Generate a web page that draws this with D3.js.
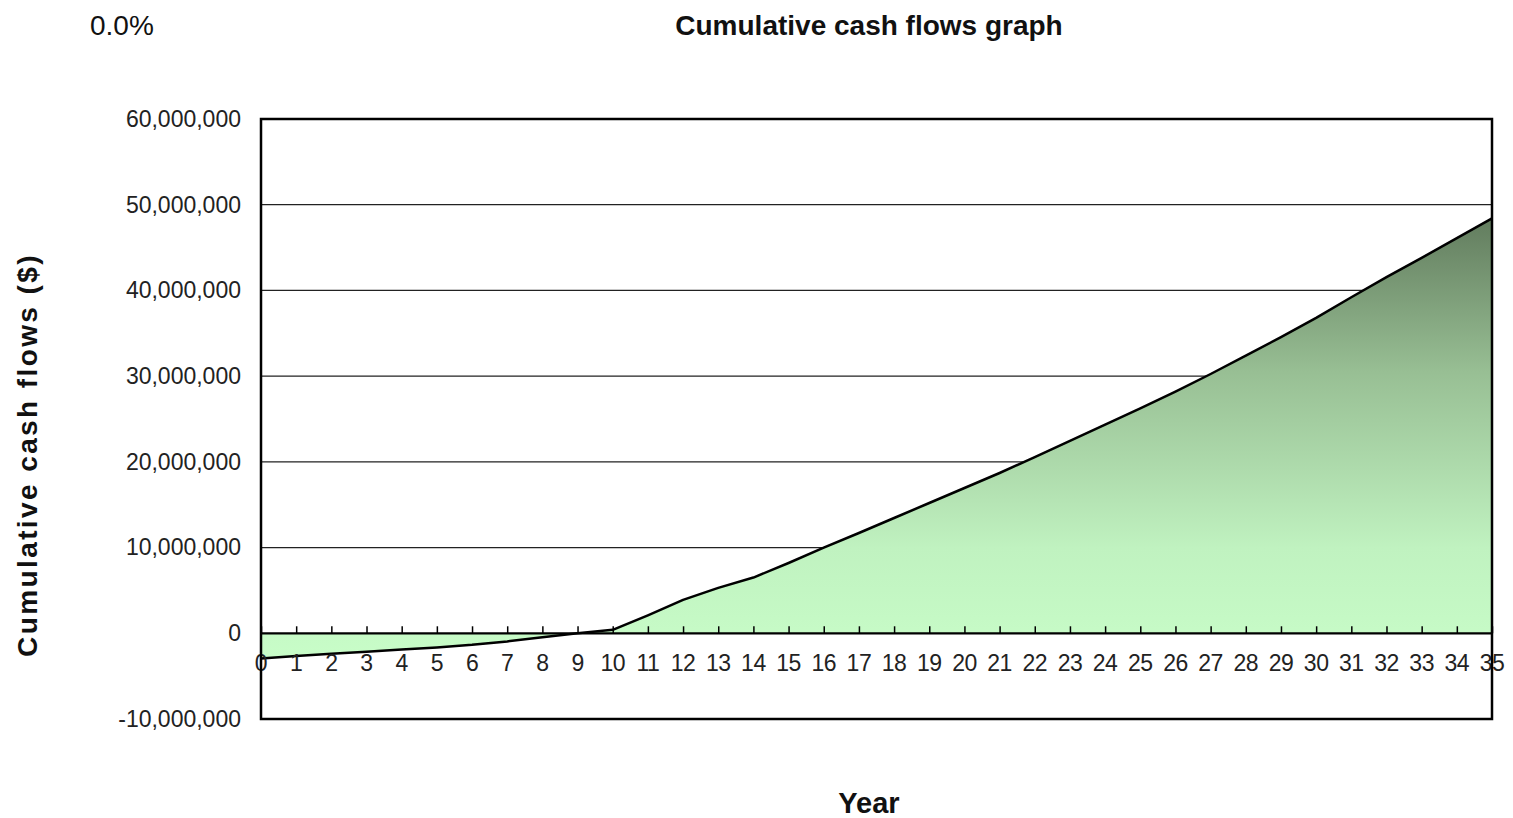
<!DOCTYPE html>
<html><head><meta charset="utf-8">
<script src="https://cdn.jsdelivr.net/npm/d3@7"></script>
<style>body{margin:0;background:#fff;}svg{display:block;font-family:"Liberation Sans",Arial,sans-serif;}</style>
</head><body>
<svg id="c" width="1513" height="818"></svg>
<script>
const years = d3.range(0, 36);
const cumulative = [-2.95e6,-2.65e6,-2.4e6,-2.15e6,-1.9e6,-1.65e6,-1.35e6,-0.95e6,-0.45e6,0,0.4e6,2.1e6,3.9e6,5.3e6,6.5e6,8.2e6,10.0e6,11.7e6,13.45e6,15.2e6,16.95e6,18.7e6,20.55e6,22.45e6,24.35e6,26.25e6,28.2e6,30.25e6,32.4e6,34.55e6,36.8e6,39.2e6,41.55e6,43.8e6,46.1e6,48.4e6];
const yTicks = [-10e6,0,10e6,20e6,30e6,40e6,50e6,60e6];
const title = "Cumulative cash flows graph";
const rateLabel = "0.0%";
const xTitle = "Year";
const yTitle = "Cumulative cash flows ($)";

const svg = d3.select("#c");
const L=261,R=1492,T=119,B=719;
const x = d3.scaleLinear().domain([0,35]).range([L,R]);
const y = d3.scaleLinear().domain([-10e6,60e6]).range([B,T]);
const data = years.map((yr,i)=>({yr, v:cumulative[i]}));

const defs = svg.append("defs");
const g = defs.append("linearGradient").attr("id","gr").attr("x1",0).attr("y1",0).attr("x2",0).attr("y2",1);
g.append("stop").attr("offset","0%").attr("stop-color","#627c5e");
g.append("stop").attr("offset","35%").attr("stop-color","#98bf94");
g.append("stop").attr("offset","75%").attr("stop-color","#c0f2c0");
g.append("stop").attr("offset","100%").attr("stop-color","#c8fdc8");

// gridlines
svg.append("g").selectAll("line").data(yTicks.filter(t=>t>0&&t<60e6)).join("line")
  .attr("x1",L).attr("x2",R).attr("y1",d=>y(d)).attr("y2",d=>y(d))
  .attr("stroke","#222").attr("stroke-width",1.3);

// area
svg.append("path").datum(data)
  .attr("d", d3.area().x(d=>x(d.yr)).y0(y(0)).y1(d=>y(d.v)))
  .attr("fill","url(#gr)");

// line
svg.append("path").datum(data)
  .attr("d", d3.line().x(d=>x(d.yr)).y(d=>y(d.v)))
  .attr("fill","none").attr("stroke","#000").attr("stroke-width",2.5).attr("stroke-linejoin","round");

// zero axis with inward ticks
svg.append("line").attr("x1",L).attr("x2",R).attr("y1",y(0)).attr("y2",y(0)).attr("stroke","#000").attr("stroke-width",2.2);
const xa = d3.axisTop(x).tickValues(years).tickSize(7).tickFormat("");
const xg = svg.append("g").attr("transform",`translate(0,${y(0)})`).call(xa);
xg.select(".domain").remove();
xg.selectAll("line").attr("stroke","#000").attr("stroke-width",1.5);

// x tick labels
svg.append("g").selectAll("text").data(years).join("text")
  .attr("x",d=>x(d)).attr("y",y(0)+38).attr("text-anchor","middle")
  .attr("font-size",23).attr("fill","#222").attr("letter-spacing","-0.5").text(d=>d);

// y axis labels
const fmt = d3.format(",.0f");
const ya = d3.axisLeft(y).tickValues(yTicks).tickSize(0).tickPadding(20).tickFormat(d=>fmt(d).replace("\u2212","-"));
const yg = svg.append("g").attr("transform",`translate(${L},0)`).call(ya);
yg.select(".domain").remove();
yg.selectAll("text").attr("font-size",23).attr("fill","#222").attr("font-family","Liberation Sans, Arial, sans-serif");

// frame
svg.append("rect").attr("x",L).attr("y",T).attr("width",R-L).attr("height",B-T)
  .attr("fill","none").attr("stroke","#000").attr("stroke-width",2.5);

// texts
svg.append("text").attr("x",869).attr("y",35).attr("text-anchor","middle").attr("font-weight","bold").attr("font-size",28).attr("fill","#111").text(title);
svg.append("text").attr("x",90).attr("y",35).attr("font-size",28).attr("fill","#111").text(rateLabel);
svg.append("text").attr("x",869).attr("y",813).attr("text-anchor","middle").attr("font-weight","bold").attr("font-size",29).attr("fill","#111").text(xTitle);
svg.append("text").attr("transform","translate(37,455) rotate(-90)").attr("text-anchor","middle").attr("font-weight","bold").attr("font-size",28).attr("letter-spacing","2.4").attr("fill","#111").text(yTitle);
</script>
</body></html>
